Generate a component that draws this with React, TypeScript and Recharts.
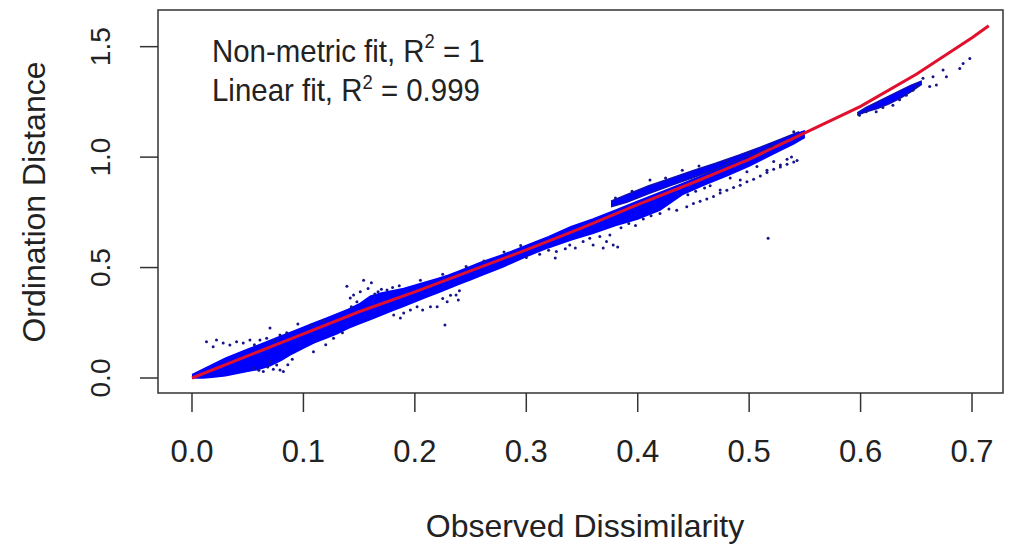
import { ComposedChart, XAxis, YAxis, Area, Line, Scatter, ReferenceArea } from 'recharts';

// monotone (non-metric) fit line
const fitX = [0, 0.05, 0.1, 0.15, 0.2, 0.25, 0.3, 0.35, 0.4, 0.45, 0.5, 0.55, 0.6, 0.65, 0.7, 0.715];
const fitY = [0, 0.1, 0.2, 0.3, 0.39, 0.485, 0.58, 0.68, 0.785, 0.885, 0.99, 1.11, 1.23, 1.375, 1.54, 1.595];

// dense core of the point cloud (lower / upper edge)
const bandX = [0, 0.01, 0.02, 0.03, 0.04, 0.05, 0.06, 0.07, 0.08, 0.09, 0.1, 0.11, 0.12, 0.13, 0.14, 0.15, 0.16, 0.17, 0.18, 0.19, 0.2, 0.21, 0.22, 0.23, 0.24, 0.25, 0.26, 0.28, 0.3, 0.32, 0.34, 0.36, 0.38, 0.4, 0.42, 0.44, 0.46, 0.48, 0.5, 0.52, 0.54, 0.55];
const bandLow = [0, 0, 0.005, 0.01, 0.02, 0.03, 0.04, 0.055, 0.08, 0.11, 0.135, 0.16, 0.18, 0.2, 0.225, 0.245, 0.265, 0.285, 0.305, 0.325, 0.345, 0.365, 0.385, 0.405, 0.425, 0.445, 0.465, 0.505, 0.55, 0.59, 0.625, 0.655, 0.69, 0.72, 0.76, 0.83, 0.875, 0.915, 0.96, 1.01, 1.06, 1.09];
const bandHigh = [0.015, 0.04, 0.065, 0.09, 0.11, 0.13, 0.15, 0.17, 0.19, 0.21, 0.23, 0.25, 0.27, 0.29, 0.31, 0.335, 0.37, 0.385, 0.395, 0.405, 0.42, 0.435, 0.45, 0.465, 0.485, 0.505, 0.525, 0.56, 0.6, 0.64, 0.685, 0.72, 0.76, 0.8, 0.84, 0.88, 0.92, 0.96, 1.005, 1.055, 1.1, 1.12];

// stripe above the fit, 0.38 - 0.55
const stripeX = [0.376, 0.39, 0.41, 0.43, 0.45, 0.47, 0.49, 0.51, 0.53, 0.545];
const stripeLow = [0.775, 0.795, 0.835, 0.872, 0.908, 0.945, 0.985, 1.025, 1.068, 1.1];
const stripeHigh = [0.8, 0.83, 0.87, 0.905, 0.94, 0.972, 1.008, 1.045, 1.085, 1.115];

// cluster under the fit, 0.6 - 0.65
const clusterX = [0.597, 0.605, 0.615, 0.625, 0.635, 0.645, 0.655];
const clusterLow = [1.19, 1.205, 1.22, 1.24, 1.265, 1.295, 1.33];
const clusterHigh = [1.2, 1.225, 1.25, 1.275, 1.3, 1.325, 1.345];

// scattered single points
const dotX = [
  0.013, 0.019, 0.022, 0.028, 0.034, 0.04, 0.046, 0.052, 0.056, 0.061, 0.067, 0.07, 0.074, 0.079, 0.085,
  0.055, 0.06, 0.064, 0.068, 0.07, 0.073, 0.076, 0.079, 0.082, 0.086, 0.09,
  0.095, 0.107, 0.109, 0.118, 0.12, 0.127, 0.135,
  0.139, 0.142, 0.143, 0.145, 0.148, 0.151, 0.154, 0.158, 0.161, 0.164, 0.167, 0.17, 0.175, 0.18, 0.186,
  0.181, 0.187, 0.19, 0.196, 0.202, 0.207, 0.214, 0.22, 0.225, 0.227, 0.229, 0.232, 0.237, 0.239, 0.24,
  0.205, 0.225, 0.246, 0.262, 0.28, 0.295,
  0.3, 0.312, 0.32, 0.326, 0.327, 0.335, 0.339, 0.344, 0.351, 0.357, 0.36, 0.366, 0.369, 0.372, 0.375, 0.378, 0.382,
  0.385, 0.392, 0.398, 0.405, 0.412, 0.42, 0.428, 0.435,
  0.444, 0.45, 0.456, 0.462, 0.468, 0.474, 0.48, 0.486, 0.492, 0.498, 0.504, 0.51, 0.516, 0.522, 0.528, 0.534, 0.54, 0.543,
  0.445, 0.452, 0.46, 0.465, 0.474, 0.483, 0.492, 0.498, 0.507, 0.516, 0.522, 0.528, 0.534, 0.538,
  0.517,
  0.38, 0.395, 0.411, 0.425, 0.44, 0.455, 0.48, 0.5, 0.52, 0.54,
  0.599, 0.605, 0.614, 0.62, 0.629, 0.635, 0.641, 0.647, 0.65, 0.656, 0.662, 0.665, 0.668, 0.674, 0.677, 0.689, 0.692, 0.698,
];
const dotY = [
  0.164, 0.142, 0.172, 0.158, 0.149, 0.164, 0.158, 0.172, 0.15, 0.172, 0.18, 0.226, 0.17, 0.195, 0.205,
  0.045, 0.035, 0.029, 0.05, 0.074, 0.04, 0.059, 0.036, 0.029, 0.06, 0.085,
  0.245, 0.24, 0.119, 0.262, 0.15, 0.18, 0.205,
  0.415, 0.362, 0.323, 0.376, 0.345, 0.39, 0.443, 0.405, 0.431, 0.38, 0.39, 0.402, 0.398, 0.41, 0.418,
  0.285, 0.272, 0.294, 0.308, 0.323, 0.308, 0.323, 0.323, 0.36, 0.24, 0.345, 0.375, 0.376, 0.353, 0.395,
  0.443, 0.47, 0.505, 0.53, 0.57, 0.6,
  0.545, 0.56, 0.578, 0.543, 0.573, 0.585, 0.602, 0.588, 0.618, 0.633, 0.602, 0.641, 0.588, 0.618, 0.647, 0.602, 0.593,
  0.68, 0.7, 0.69, 0.72, 0.735, 0.745, 0.765, 0.76,
  0.775, 0.79, 0.8, 0.81, 0.822, 0.838, 0.85, 0.862, 0.873, 0.888, 0.9, 0.915, 0.93, 0.945, 0.955, 0.968, 0.978, 0.985,
  0.83, 0.845, 0.86, 0.87, 0.851, 0.905, 0.896, 0.934, 0.957, 0.94, 0.98, 0.964, 0.99, 1.0,
  0.633,
  0.815, 0.845, 0.896, 0.905, 0.94, 0.96, 0.985, 1.02, 1.05, 1.115,
  1.19, 1.205, 1.205, 1.225, 1.235, 1.26, 1.28, 1.303, 1.32, 1.357, 1.32, 1.364, 1.326, 1.394, 1.364, 1.401, 1.424, 1.446,
];

const xTicks = [0, 0.1, 0.2, 0.3, 0.4, 0.5, 0.6, 0.7];
const yTicks = [0, 0.5, 1, 1.5];

const fitData = fitX.map((x, i) => ({ x, y: fitY[i] }));
const bandData = bandX.map((x, i) => ({ x, range: [bandLow[i], bandHigh[i]] }));
const stripeData = stripeX.map((x, i) => ({ x, range: [stripeLow[i], stripeHigh[i]] }));
const clusterData = clusterX.map((x, i) => ({ x, range: [clusterLow[i], clusterHigh[i]] }));
const dotData = dotX.map((x, i) => ({ x, y: dotY[i] }));

const X_DOMAIN = [-0.0305, 0.7278];
const Y_DOMAIN = [-0.0679, 1.666];
const FONT = '"Liberation Sans", Arial, sans-serif';
const INK = '#222';
const BLUE = '#0000ff';

const XTick = ({ x, y, payload }: any) => (
  <text x={x} y={y + 48} textAnchor="middle" fontSize={31} fontFamily={FONT} fill={INK}>
    {payload.value.toFixed(1)}
  </text>
);

const YTick = ({ x, y, payload }: any) => (
  <g transform={`translate(${x - 28},${y}) rotate(-90)`}>
    <text x={0} y={0} textAnchor="middle" fontSize={28} fontFamily={FONT} fill={INK}>
      {payload.value.toFixed(1)}
    </text>
  </g>
);

const Dot = (p: any) => <circle cx={p.cx} cy={p.cy} r={1.5} fill="#16168a" />;

export default function App() {
  return (
    <div style={{ position: 'absolute', left: 0, top: 0, width: 1013, height: 548, background: '#fff' }}>
      <ComposedChart width={1013} height={548} margin={{ top: 10, right: 10, bottom: 0, left: 0 }}>
        <XAxis
          type="number"
          dataKey="x"
          domain={X_DOMAIN}
          allowDataOverflow
          ticks={xTicks}
          interval={0}
          height={155}
          tickSize={19}
          axisLine={false}
          tickLine={{ stroke: '#333', strokeWidth: 1.5 }}
          tick={<XTick />}
        />
        <YAxis
          type="number"
          domain={Y_DOMAIN}
          allowDataOverflow
          ticks={yTicks}
          interval={0}
          width={158}
          tickSize={18}
          axisLine={false}
          tickLine={{ stroke: '#333', strokeWidth: 1.5 }}
          tick={<YTick />}
        />
        <Area data={bandData} dataKey="range" type="linear" stroke={BLUE} strokeWidth={1.5} fill={BLUE} fillOpacity={1} isAnimationActive={false} dot={false} activeDot={false} />
        <Area data={stripeData} dataKey="range" type="linear" stroke="#1010b0" strokeWidth={1.5} fill={BLUE} fillOpacity={1} isAnimationActive={false} dot={false} activeDot={false} />
        <Area data={clusterData} dataKey="range" type="linear" stroke="#1010b0" strokeWidth={1.5} fill={BLUE} fillOpacity={1} isAnimationActive={false} dot={false} activeDot={false} />
        <Scatter data={dotData} dataKey="y" shape={<Dot />} isAnimationActive={false} />
        <Line data={fitData} dataKey="y" type="linear" stroke="#e0102e" strokeWidth={3} dot={false} activeDot={false} isAnimationActive={false} />
        <ReferenceArea x1={X_DOMAIN[0]} x2={X_DOMAIN[1]} y1={Y_DOMAIN[0]} y2={Y_DOMAIN[1]} fill="none" stroke="#333" strokeWidth={1.5} ifOverflow="visible" />
      </ComposedChart>
      <svg width={1013} height={548} style={{ position: 'absolute', left: 0, top: 0, pointerEvents: 'none' }} fontFamily={FONT} fill={INK}>
        <text x={585} y={537} textAnchor="middle" fontSize={32}>Observed Dissimilarity</text>
        <text x={0} y={0} transform="translate(45,202) rotate(-90)" textAnchor="middle" fontSize={32}>Ordination Distance</text>
        <g transform="translate(212,0) scale(0.92,1)">
          <text x={0} y={62} fontSize={32}>
            Non-metric fit, R<tspan dy={-14} fontSize={20}>2</tspan><tspan dy={14}> = 1</tspan>
          </text>
          <text x={0} y={101} fontSize={32}>
            Linear fit, R<tspan dy={-12} fontSize={20}>2</tspan><tspan dy={12}> = 0.999</tspan>
          </text>
        </g>
      </svg>
    </div>
  );
}
